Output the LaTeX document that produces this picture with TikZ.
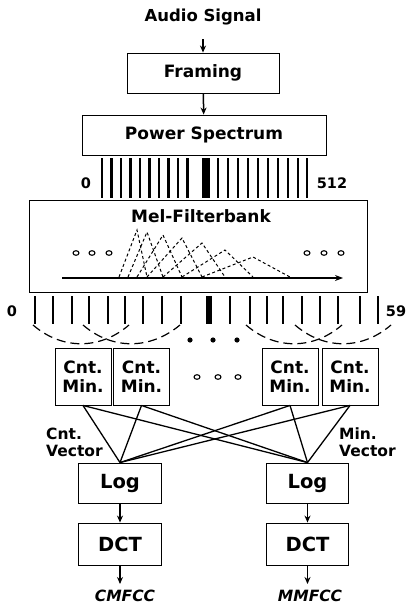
\documentclass[tikz,border=0pt]{standalone}
\usepackage{fontspec}
\setmainfont{DejaVu Sans}
\usetikzlibrary{arrows.meta}
\begin{document}
\begin{tikzpicture}[x=1pt,y=-1pt,
  box/.style={draw,line width=0.9pt,inner sep=0pt,font=\bfseries\fontsize{17}{17}\selectfont},
  bigbox/.style={draw,line width=0.9pt,inner sep=0pt,font=\bfseries\fontsize{19.5}{19.5}\selectfont},
  cbox/.style={draw,line width=0.9pt,inner sep=0pt,minimum width=56,minimum height=57,align=center,font=\bfseries\fontsize{17}{19}\selectfont},
  lbl/.style={font=\bfseries\fontsize{16.5}{16.5}\selectfont},
  num/.style={font=\bfseries\fontsize{14.5}{14.5}\selectfont},
  sml/.style={font=\bfseries\fontsize{15.5}{17}\selectfont,align=left},
  outl/.style={font=\bfseries\itshape\fontsize{15.5}{15.5}\selectfont},
  arr/.style={line width=1.5pt,-{Stealth[length=7pt,width=6pt]}},
  bar/.style={line width=2.4pt},
  tri/.style={line width=1pt,dash pattern=on 3pt off 2.5pt},
  arc/.style={line width=1.2pt,dash pattern=on 9pt off 5pt},
  conn/.style={line width=1.3pt},
  ring/.style={line width=1.1pt}]
\useasboundingbox (0,0) rectangle (410,605);
% top chain
\node[lbl] (audio) at (203,17) {Audio Signal};
\node[box,minimum width=152,minimum height=40] (fram) at (203,73) {Framing};
\node[box,minimum width=244,minimum height=40] (pow) at (204,135) {Power Spectrum};
\coordinate (a0) at (203,39);
\draw[arr] (a0) -- (fram.north);
\draw[arr] (fram) -- (pow);
% power spectrum bars
\foreach \x in {102,111.5,121,130.5,140,149.5,159,168.5,178,187.5,218,228,238,248,258,268,278,288,298,307}
  \draw[bar] (\x,158) -- (\x,198);
\fill (202,158) rectangle (210,198);
\node[num] (z1) at (86,183) {0};
\node[num] (n512) at (332,183) {512};
% mel filterbank box
\node[draw,line width=0.9pt,minimum width=338,minimum height=92,inner sep=0pt] (mel) at (198,246) {};
\node[box,draw=none] (meltitle) at (201,216) {Mel-Filterbank};
\coordinate (axs) at (62,278);
\coordinate (axe) at (343,278);
\draw[line width=1.3pt,-{Stealth[length=8pt,width=6pt]}] (axs) -- (axe);
\foreach \cx in {76,92,109,307,324,341}
  \draw[ring] (\cx,253) ellipse (3pt and 2.3pt);
% triangles
\def\base{277}
\draw[tri] (119,\base) -- (137,230) -- (147,\base);
\draw[tri] (128,\base) -- (147,232) -- (163,\base);
\draw[tri] (137,\base) -- (163,235) -- (182,\base);
\draw[tri] (147,\base) -- (182,238) -- (202,\base);
\draw[tri] (163,\base) -- (202,243) -- (225,\base);
\draw[tri] (182,\base) -- (225,250) -- (253,\base);
\draw[tri] (202,\base) -- (253,257) -- (290,\base);
% lower bars
\foreach \x in {35,53,72,89,108,125,143,162,181,230,250,267,283,302,320,338,360,378}
  \draw[bar] (\x,296) -- (\x,324);
\fill (206,296) rectangle (212,324);
\node[num] (z2) at (12,311) {0};
\node[num] (n59) at (396,311) {59};
% dashed arcs
\draw[arc] (33,325) .. controls (62,350) and (100,350) .. (129,325);
\draw[arc] (83,325) .. controls (112,350) and (150,350) .. (180,325);
\draw[arc] (246,325) .. controls (275,350) and (313,350) .. (342,325);
\draw[arc] (295,325) .. controls (324,350) and (362,350) .. (391,325);
\foreach \cx in {190,213,237} \fill (\cx,340) circle (2.6pt);
% cnt/min boxes
\node[cbox] (c1) at (83,376.5) {Cnt.\\Min.};
\node[cbox] (c2) at (141.5,376.5) {Cnt.\\Min.};
\node[cbox] (c3) at (290,376.5) {Cnt.\\Min.};
\node[cbox] (c4) at (350,376.5) {Cnt.\\Min.};
\foreach \cx in {197,218,238}
  \draw[ring] (\cx,377) ellipse (3pt and 2.3pt);
% log / dct
\node[bigbox,minimum width=83,minimum height=40] (log1) at (120,483) {Log};
\node[bigbox,minimum width=82,minimum height=40] (log2) at (307.5,483) {Log};
\node[bigbox,minimum width=83,minimum height=42] (dct1) at (120,544) {DCT};
\node[bigbox,minimum width=82,minimum height=42] (dct2) at (307.5,544) {DCT};
\foreach \c in {c1,c2,c3,c4} {
  \draw[conn] (\c.south) -- (log1.north);
  \draw[conn] (\c.south) -- (log2.north);
}
\node[sml,anchor=west,inner sep=0pt] (cv) at (46,442) {Cnt.\\Vector};
\node[sml,anchor=west,inner sep=0pt] (mv) at (339,442) {Min.\\Vector};
\draw[arr] (log1) -- (dct1);
\draw[arr] (log2) -- (dct2);
\coordinate (o1) at (120,584);
\coordinate (o2) at (307.5,584);
\draw[arr] (dct1.south) -- (o1);
\draw[arr] (dct2.south) -- (o2);
\node[outl] (cm) at (125,596) {CMFCC};
\node[outl] (mm) at (310,596) {MMFCC};
\end{tikzpicture}
\end{document}
